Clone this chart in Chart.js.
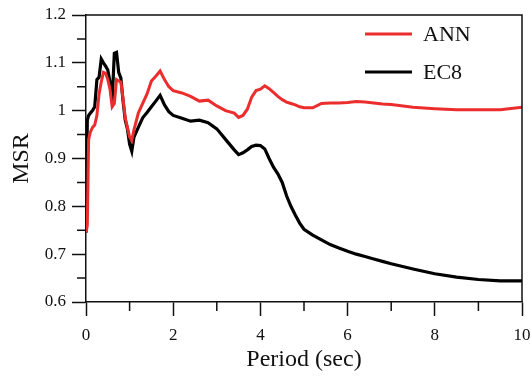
<!DOCTYPE html>
<html>
<head>
<meta charset="utf-8">
<script src="https://cdn.jsdelivr.net/npm/chart.js@4"></script>
<style>
html,body{margin:0;padding:0;background:#fff;}
#c{display:block;}
</style>
</head>
<body>
<canvas id="c" width="531" height="378"></canvas>
<script>
const periods = [0, 0.03, 0.06, 0.1, 0.15, 0.2, 0.25, 0.3, 0.35, 0.4, 0.45, 0.5, 0.55, 0.6, 0.65, 0.7, 0.75, 0.8, 0.85, 0.9, 0.95, 1.0, 1.05, 1.1, 1.2, 1.3, 1.4, 1.5, 1.6, 1.7, 1.8, 1.9, 2.0, 2.2, 2.4, 2.6, 2.8, 3.0, 3.2, 3.4, 3.5, 3.6, 3.7, 3.8, 3.9, 4.0, 4.1, 4.2, 4.3, 4.4, 4.5, 4.6, 4.7, 4.8, 4.9, 5.0, 5.2, 5.4, 5.6, 5.8, 6.0, 6.2, 6.4, 6.6, 6.8, 7.0, 7.5, 8.0, 8.5, 9.0, 9.5, 10.0];
const annValues = [0.745, 0.76, 0.94, 0.955, 0.965, 0.97, 0.99, 1.035, 1.06, 1.08, 1.078, 1.065, 1.045, 1.008, 1.015, 1.065, 1.062, 1.06, 1.025, 0.985, 0.965, 0.945, 0.938, 0.96, 0.995, 1.015, 1.035, 1.062, 1.072, 1.083, 1.065, 1.05, 1.042, 1.037, 1.03, 1.02, 1.022, 1.01, 1.0, 0.995, 0.986, 0.99, 1.003, 1.028, 1.042, 1.045, 1.052, 1.046, 1.038, 1.03, 1.023, 1.018, 1.015, 1.012, 1.008, 1.006, 1.006, 1.015, 1.016, 1.016, 1.017, 1.019, 1.018, 1.016, 1.014, 1.013, 1.007, 1.004, 1.002, 1.002, 1.002, 1.007];
const ec8Values = [0.745, 0.98, 0.99, 0.995, 1.0, 1.008, 1.065, 1.07, 1.108, 1.1, 1.093, 1.085, 1.06, 1.02, 1.12, 1.122, 1.08, 1.068, 1.02, 0.98, 0.962, 0.93, 0.915, 0.945, 0.965, 0.985, 0.996, 1.008, 1.02, 1.032, 1.012, 0.998, 0.99, 0.984, 0.978, 0.98, 0.975, 0.962, 0.94, 0.918, 0.908, 0.912, 0.918, 0.925, 0.928, 0.927, 0.92, 0.9, 0.882, 0.868, 0.85, 0.822, 0.8, 0.782, 0.765, 0.752, 0.74, 0.73, 0.72, 0.713, 0.706, 0.7, 0.695, 0.69, 0.685, 0.68, 0.669, 0.659, 0.652, 0.647, 0.644, 0.644];
const seriesNames = ['ANN', 'EC8'];
const xTickLabels = ['0', '2', '4', '6', '8', '10'];
const yTickLabels = ['0.6', '0.7', '0.8', '0.9', '1', '1.1', '1.2'];

const FONT = "'Liberation Serif', 'Times New Roman', serif";
const red = 'rgb(236,45,45)';

function toXY(vals){ return periods.map((p,i)=>({x:p, y:vals[i]})); }

const minorTicks = {
  id: 'minorTicks',
  afterDraw(chart){
    const ctx = chart.ctx, a = chart.chartArea;
    const xs = chart.scales.x, ys = chart.scales.y;
    ctx.save();
    ctx.strokeStyle = '#111';
    ctx.lineWidth = 1.5;
    ctx.beginPath();
    ctx.moveTo(a.left, a.top); ctx.lineTo(a.right, a.top); ctx.lineTo(a.right, a.bottom);
    ctx.stroke();
    ctx.beginPath();
    for (let v = 1; v < 10; v += 2){
      const px = xs.getPixelForValue(v);
      ctx.moveTo(px, a.bottom); ctx.lineTo(px, a.bottom + 9);
    }
    for (let k = 0; k < 6; k++){
      const v = 0.65 + k*0.1;
      const py = ys.getPixelForValue(v);
      ctx.moveTo(a.left, py); ctx.lineTo(a.left - 9, py);
    }
    ctx.stroke();
    const ds = chart.data.datasets;
    ctx.font = '22px ' + FONT;
    ctx.textBaseline = 'middle';
    ctx.textAlign = 'left';
    ds.forEach((d, i) => {
      const y = a.top + 19 + i*38;
      ctx.strokeStyle = d.borderColor;
      ctx.lineWidth = 3;
      ctx.beginPath();
      ctx.moveTo(a.left + 279, y); ctx.lineTo(a.left + 326, y);
      ctx.stroke();
      ctx.fillStyle = '#111';
      ctx.fillText(d.label, a.left + 337, y + 1);
    });
    ctx.restore();
  }
};

new Chart(document.getElementById('c'), {
  type: 'line',
  data: {
    datasets: [
      { label: seriesNames[0], data: toXY(annValues), borderColor: red, borderWidth: 3, pointRadius: 0, tension: 0, fill: false },
      { label: seriesNames[1], data: toXY(ec8Values), borderColor: '#000', borderWidth: 3.2, pointRadius: 0, tension: 0, fill: false }
    ]
  },
  options: {
    responsive: false,
    animation: false,
    layout: { padding: { left: 0, top: 15, right: 9, bottom: 0 } },
    plugins: { legend: { display: false }, tooltip: { enabled: false } },
    scales: {
      x: {
        type: 'linear', min: 0, max: 10,
        afterFit(s){ s.height = 76; s.paddingLeft = 0; s.paddingRight = 0; },
        afterBuildTicks(s){ s.ticks = xTickLabels.map(t => ({value: Number(t)})); },
        ticks: { callback: (v) => String(v), font: { family: FONT, size: 17 }, color: '#111', padding: 9, maxRotation: 0 },
        grid: { drawOnChartArea: false, tickLength: 14, color: '#111', tickWidth: 1.5 },
        border: { color: '#111', width: 1.5 },
        title: { display: true, text: 'Period (sec)', font: { family: FONT, size: 24, lineHeight: 1 }, color: '#111', padding: { top: 0, bottom: 6 } }
      },
      y: {
        type: 'linear', min: 0.6, max: 1.2,
        afterFit(s){ s.width = 86; s.paddingTop = 0; s.paddingBottom = 0; },
        afterBuildTicks(s){ s.ticks = yTickLabels.map(t => ({value: Number(t)})); },
        ticks: { callback: (v) => { const r = Math.round(v*10)/10; return r === 1 ? '1' : r.toFixed(1); }, font: { family: FONT, size: 17 }, color: '#111', padding: 6 },
        grid: { drawOnChartArea: false, tickLength: 14, color: '#111', tickWidth: 1.5 },
        border: { color: '#111', width: 1.5 },
        title: { display: true, text: 'MSR', font: { family: FONT, size: 24, lineHeight: 1 }, color: '#111', padding: { top: 10, bottom: 0 } }
      }
    }
  },
  plugins: [minorTicks]
});
</script>
</body>
</html>
